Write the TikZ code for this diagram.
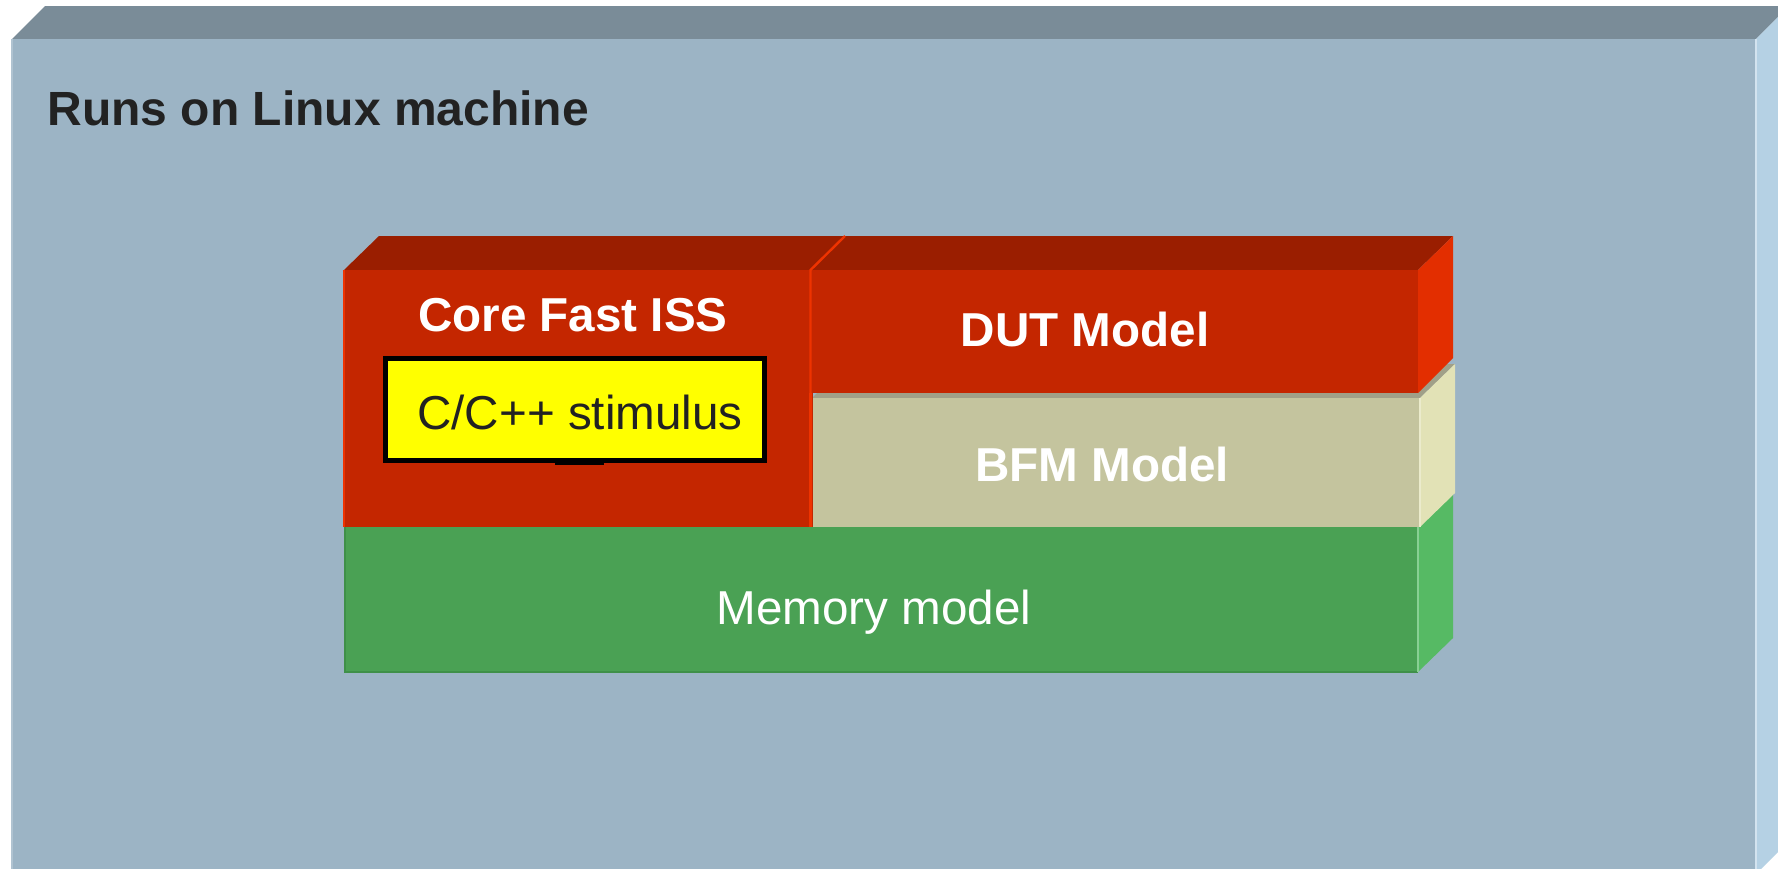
\documentclass[tikz,border=0pt]{standalone}
\usepackage{fontspec}
\setmainfont{Liberation Sans}
% host machine slab
\definecolor{hosttop}{HTML}{7A8C98}
\definecolor{hostfront}{HTML}{9CB4C5}
\definecolor{hostside}{HTML}{B5D1E4}
% red processor / DUT blocks
\definecolor{redtop}{HTML}{9A1E00}
\definecolor{redfront}{HTML}{C42600}
\definecolor{redside}{HTML}{E32E00}
\definecolor{rededge}{HTML}{EE3300}
% bus functional model block
\definecolor{bfmtop}{HTML}{A0A088}
\definecolor{bfmfront}{HTML}{C4C49E}
\definecolor{bfmside}{HTML}{E2E2B6}
% memory block
\definecolor{memfront}{HTML}{4AA154}
\definecolor{memside}{HTML}{56BA64}
\definecolor{memedge}{HTML}{3F9049}
% stimulus box and dark text
\definecolor{stimfill}{HTML}{FFFF00}
\definecolor{inktext}{HTML}{222222}
\begin{document}
\begin{tikzpicture}[x=0.5pt,y=-0.5pt,
  txt/.style={inner sep=0pt, anchor=base, font=\fontsize{23.8}{28}\selectfont},
  boldtxt/.style={txt, font=\fontsize{23.8}{28}\selectfont\bfseries}]
\useasboundingbox (0,0) rectangle (1778,868);
\fill[white] (0,0) rectangle (1778,868);

% host machine box
\begin{scope}
  \clip (0,0) rectangle (1778,868);
  \fill[hosttop] (12,39) -- (45,6) -- (1789,6) -- (1756,39) -- cycle;
  \fill[hostfront] (12,39) rectangle (1756,874);
  \fill[hostside] (1756,39) -- (1789,6) -- (1789,841) -- (1756,874) -- cycle;
  \draw[hostside!60!white, line width=1pt] (1756,39) -- (1756,874);
  \draw[hostfront!80!white, line width=0.8pt] (12,39) -- (12,874);
\end{scope}

% memory model
\fill[memside] (1418,527) -- (1453,493) -- (1453,638) -- (1418,672) -- cycle;
\fill[memfront] (345,526) rectangle (1418,672);
\draw[memedge, line width=1pt] (345,527) -- (345,672) -- (1418,672);
\draw[memside!70!white, line width=0.8pt] (1418,527) -- (1418,672);

% BFM model
\fill[bfmtop] (812,398) -- (847,364) -- (1455,364) -- (1420,398) -- cycle;
\fill[bfmside] (1420,398) -- (1455,364) -- (1455,493) -- (1420,527) -- cycle;
\fill[bfmfront] (812,398) rectangle (1420,527);
\draw[bfmside!70!white, line width=0.8pt] (1420,398) -- (1420,527);

% core fast ISS
\fill[redtop] (344,270) -- (379,236) -- (845,236) -- (810,270) -- cycle;
\fill[redfront] (344,270) rectangle (812.5,527);
\draw[rededge, line width=0.8pt] (344,270) -- (344,527);
\draw[rededge, line width=1.2pt] (810.5,393) -- (810.5,527);

% DUT model
\fill[redtop] (810,270) -- (845,236) -- (1453,236) -- (1418,270) -- cycle;
\fill[redside] (1418,270) -- (1453,236) -- (1453,358) -- (1418,393) -- cycle;
\fill[redfront] (810,270) rectangle (1418,393);
\draw[rededge, line width=1.2pt] (810.5,393) -- (810.5,270) -- (845,236);

% stimulus box inside the core
\draw[black, fill=stimfill, line width=2.35pt] (385.4,358.4) rectangle (764.6,460.6);
\fill[black] (555,460) rectangle (604,465);

% labels
\node[boldtxt, inktext, anchor=base west, font=\fontsize{24}{28}\selectfont\bfseries] (host) at (47,125) {Runs on Linux machine};
\node[boldtxt, white] (core) at (573,331) {Core Fast ISS};
\node[txt, inktext] (stim) at (580,429) {C/C++ stimulus};
\node[boldtxt, white] (dut) at (1085,346) {DUT Model};
\node[boldtxt, white] (bfm) at (1102,481) {BFM Model};
\node[txt, white] (mem) at (874,624) {Memory model};
\end{tikzpicture}
\end{document}
